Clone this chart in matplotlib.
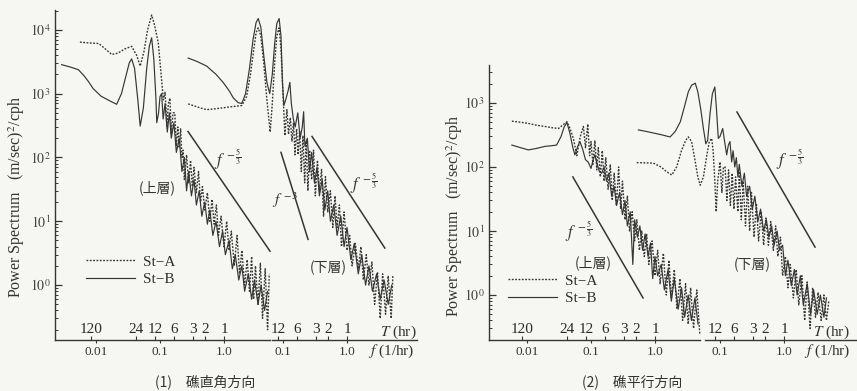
import math
import matplotlib
matplotlib.use('Agg')
import matplotlib.pyplot as plt
from matplotlib.ticker import FixedLocator, FixedFormatter, LogLocator, NullFormatter

plt.rcParams['font.family'] = ['Liberation Serif', 'DejaVu Serif', 'Noto Sans CJK JP']
plt.rcParams['mathtext.fontset'] = 'stix'

# ---------------- data ----------------
# Panel (1) 礁直角方向, upper layer (上層)
L_up_A_f = [0.0056, 0.008, 0.011, 0.014, 0.0176, 0.022, 0.028, 0.036, 0.043, 0.049, 0.056, 0.064, 0.074, 0.082,
            0.094, 0.104, 0.113, 0.12, 0.128, 0.135, 0.143, 0.15, 0.16, 0.17, 0.18, 0.19, 0.2, 0.21, 0.22, 0.23,
            0.24, 0.26, 0.28, 0.30, 0.32, 0.34, 0.37, 0.40, 0.43, 0.46, 0.5, 0.55, 0.6, 0.65, 0.7, 0.76, 0.82,
            0.9, 1.0, 1.1, 1.2, 1.3, 1.45, 1.6, 1.75, 1.9, 2.1, 2.3, 2.5, 2.7, 2.9, 3.1, 3.4, 3.7, 4.0, 4.4,
            4.8, 5.1]
L_up_A_S = [6400, 6200, 6100, 5000, 4100, 4300, 5000, 5500, 4000, 2700, 4500, 10000, 17000, 12000,
            6200, 2000, 800, 1050, 300, 700, 850, 230, 500, 500, 150, 300, 140, 280, 100, 130,
            45, 110, 40, 90, 35, 70, 28, 60, 20, 35, 15, 28, 10, 22, 9, 18, 6,
            12, 4, 10, 3.5, 7, 2, 6, 1.5, 3.5, 1, 2.5, 0.8, 2.8, 0.6, 2, 0.5, 2.2, 0.3, 1.8,
            0.2, 1.5]
L_up_B_f = [0.0029, 0.004, 0.0053, 0.0065, 0.0076, 0.009, 0.012, 0.016, 0.021, 0.025, 0.029, 0.033, 0.036,
            0.040, 0.045, 0.049, 0.055, 0.062, 0.068, 0.074, 0.080, 0.086, 0.089, 0.095, 0.10, 0.106, 0.112,
            0.12, 0.13, 0.14, 0.15, 0.165, 0.18, 0.2, 0.22, 0.24, 0.26, 0.28, 0.31, 0.34, 0.37, 0.41, 0.45,
            0.5, 0.55, 0.6, 0.67, 0.75, 0.85, 0.95, 1.05, 1.2, 1.35, 1.5, 1.7, 1.9, 2.1, 2.4, 2.7, 3.0, 3.4,
            3.8, 4.3, 4.8]
L_up_B_S = [2840, 2600, 2370, 1900, 1550, 1200, 910, 780, 680, 1000, 1800, 3000, 3500,
            2500, 800, 310, 600, 2500, 5500, 7500, 3500, 900, 350, 500, 900, 1000, 400,
            700, 250, 500, 200, 350, 120, 200, 60, 100, 30, 60, 25, 45, 18, 30, 12,
            20, 9, 15, 6, 10, 4, 7, 3, 5, 1.8, 3, 1.2, 2, 0.8, 1.5, 0.6, 1.2, 0.5,
            1.0, 0.4, 0.8]
# Panel (1), lower layer (下層)
L_lo_A_f = [0.0033, 0.005, 0.0064, 0.009, 0.0117, 0.015, 0.0227, 0.027, 0.031, 0.035, 0.038, 0.041, 0.045,
            0.050, 0.056, 0.063, 0.068, 0.074, 0.080, 0.087, 0.093, 0.10, 0.107, 0.115, 0.122, 0.13, 0.138,
            0.146, 0.154, 0.163, 0.172, 0.182, 0.193, 0.205, 0.218, 0.23, 0.245, 0.26, 0.28, 0.30, 0.32,
            0.345, 0.37, 0.40, 0.43, 0.46, 0.5, 0.55, 0.6, 0.65, 0.7, 0.76, 0.82, 0.9, 1.0, 1.1, 1.2, 1.35,
            1.5, 1.65, 1.8, 2.0, 2.2, 2.45, 2.7, 3.0, 3.3, 3.6, 4.0, 4.4, 4.9, 5.2]
L_lo_A_S = [690, 600, 560, 580, 600, 620, 650, 900, 2000, 5000, 9000, 10700, 8000,
            3000, 800, 250, 700, 3000, 8000, 10700, 5000, 1000, 220, 560, 230, 420, 180,
            350, 110, 280, 110, 260, 60, 220, 40, 180, 30, 130, 45, 130, 25,
            90, 30, 65, 12, 50, 14, 30, 8, 25, 8, 18, 4, 14, 3.5, 6, 2, 4.5,
            1.8, 4, 1.2, 3, 1, 2.3, 0.5, 1.6, 0.3, 1.5, 0.35, 1.4, 0.3, 1.4]
L_lo_B_f = [0.0033, 0.0045, 0.0064, 0.009, 0.0117, 0.0145, 0.0168, 0.020, 0.0227, 0.026, 0.030, 0.034, 0.038,
            0.041, 0.045, 0.050, 0.056, 0.062, 0.068, 0.074, 0.080, 0.087, 0.093, 0.098, 0.103, 0.11, 0.12,
            0.128, 0.135, 0.145, 0.155, 0.17, 0.185, 0.2, 0.21, 0.22, 0.24, 0.26, 0.28, 0.31, 0.34, 0.37,
            0.41, 0.45, 0.5, 0.55, 0.62, 0.7, 0.8, 0.9, 1.0, 1.15, 1.3, 1.5, 1.7, 1.95, 2.2, 2.5, 2.9, 3.3,
            3.8, 4.4, 5.0]
L_lo_B_S = [3600, 3200, 2700, 2000, 1480, 1100, 850, 720, 700, 1000, 2500, 7000, 13000,
            15000, 11000, 4000, 1500, 1000, 2000, 6000, 12500, 15000, 8000, 1500, 650, 800, 1100,
            1500, 700, 400, 300, 500, 200, 300, 520, 150, 200, 60, 120, 40, 70, 25,
            45, 15, 30, 10, 18, 6, 12, 4, 8, 2.5, 4.5, 1.5, 3, 1, 2, 0.8, 1.5, 0.6,
            1.2, 0.5, 1.0]
# Panel (2) 礁平行方向, upper layer (上層)
R_up_A_f = [0.0058, 0.008, 0.0105, 0.014, 0.019, 0.025, 0.031, 0.036, 0.042, 0.047, 0.053, 0.06, 0.068,
            0.076, 0.082, 0.089, 0.095, 0.10, 0.107, 0.115, 0.123, 0.13, 0.14, 0.15, 0.16, 0.17, 0.185, 0.2,
            0.215, 0.23, 0.25, 0.27, 0.29, 0.31, 0.34, 0.37, 0.4, 0.44, 0.48, 0.52, 0.57, 0.62, 0.68, 0.74,
            0.8, 0.9, 1.0, 1.1, 1.2, 1.35, 1.5, 1.65, 1.8, 2.0, 2.2, 2.45, 2.7, 3.0, 3.3, 3.6, 4.0, 4.5, 5.0]
R_up_A_S = [520, 500, 480, 450, 430, 410, 400, 450, 510, 400, 280, 150, 300,
            430, 200, 470, 150, 250, 110, 260, 90, 200, 70, 180, 60, 140, 45, 110,
            30, 80, 25, 100, 22, 60, 15, 35, 10, 20, 7, 15, 5, 10, 4, 9,
            3, 7, 2, 5, 1.5, 4.5, 1, 3.5, 0.9, 2.5, 0.6, 1.8, 0.4, 1.5, 0.35, 1.3, 0.3, 1.2, 0.25]
R_up_B_f = [0.0058, 0.008, 0.0105, 0.014, 0.019, 0.024, 0.029, 0.034, 0.038, 0.042, 0.047, 0.052, 0.056,
            0.062, 0.067, 0.074, 0.082, 0.09, 0.10, 0.108, 0.115, 0.125, 0.135, 0.147, 0.16, 0.175, 0.19,
            0.21, 0.23, 0.25, 0.28, 0.31, 0.34, 0.37, 0.41, 0.45, 0.48, 0.53, 0.58, 0.64, 0.7, 0.78, 0.85,
            0.92, 1.0, 1.1, 1.25, 1.4, 1.6, 1.8, 2.0, 2.3, 2.6, 2.9, 3.3, 3.7, 4.2, 4.7]
R_up_B_S = [220, 200, 185, 195, 210, 215, 220, 300, 420, 500, 330, 200, 155,
            210, 250, 190, 130, 120, 95, 130, 155, 110, 85, 80, 100, 60, 80,
            35, 50, 25, 40, 18, 30, 12, 20, 3, 15, 8, 12, 5, 9, 4, 6.5,
            1.8, 4, 2, 3, 1.2, 2.5, 0.8, 1.8, 0.6, 1.3, 0.45, 1.0, 0.4, 0.9, 0.35]
# Panel (2), lower layer (下層)
R_lo_A_f = [0.005, 0.007, 0.0091, 0.012, 0.0145, 0.0176, 0.021, 0.025, 0.029, 0.032, 0.036, 0.040, 0.045,
            0.049, 0.055, 0.062, 0.068, 0.074, 0.078, 0.083, 0.087, 0.092, 0.10, 0.107, 0.113, 0.12, 0.128,
            0.136, 0.145, 0.155, 0.165, 0.175, 0.19, 0.2, 0.215, 0.23, 0.25, 0.27, 0.29, 0.31, 0.34, 0.37,
            0.4, 0.44, 0.48, 0.52, 0.57, 0.62, 0.68, 0.74, 0.8, 0.88, 0.95, 1.05, 1.15, 1.25, 1.4, 1.55,
            1.7, 1.9, 2.1, 2.3, 2.55, 2.8, 3.1, 3.4, 3.8, 4.2, 4.6, 5.0]
R_lo_A_S = [117, 116, 115, 100, 85, 75, 100, 180, 260, 295, 250, 140, 70,
            52, 70, 150, 250, 280, 180, 60, 20, 60, 120, 40, 100, 100, 30,
            90, 25, 80, 22, 70, 20, 85, 15, 60, 12, 50, 10, 40, 8, 27,
            7, 20, 6, 16, 6, 14, 5, 12, 4, 8, 2, 4, 1.3, 3, 0.9, 2.5,
            0.7, 2, 0.4, 1.6, 0.3, 1.3, 0.45, 1.1, 0.4, 1.0, 0.4, 0.8]
R_lo_B_f = [0.0053, 0.007, 0.0091, 0.012, 0.0166, 0.020, 0.024, 0.028, 0.032, 0.036, 0.041, 0.045, 0.050,
            0.055, 0.060, 0.064, 0.070, 0.076, 0.083, 0.088, 0.094, 0.10, 0.11, 0.118, 0.127, 0.135, 0.143,
            0.152, 0.16, 0.17, 0.18, 0.19, 0.2, 0.22, 0.24, 0.26, 0.29, 0.32, 0.35, 0.39, 0.43, 0.48, 0.53,
            0.58, 0.64, 0.7, 0.78, 0.85, 0.95, 1.05, 1.15, 1.3, 1.45, 1.6, 1.8, 2.0, 2.3, 2.6, 2.9, 3.3, 3.7,
            4.2, 4.6]
R_lo_B_S = [380, 360, 340, 320, 295, 360, 510, 900, 1500, 1900, 2040, 1500, 800,
            400, 230, 260, 700, 1400, 1780, 800, 280, 300, 400, 250, 155, 220, 250,
            120, 180, 100, 140, 70, 110, 50, 80, 35, 50, 22, 35, 14, 22, 10, 15,
            8, 12, 6, 10, 5, 6, 2, 3.5, 1.4, 2.5, 1.0, 2, 0.7, 1.5, 0.5, 1.2, 0.5, 1.0,
            0.45, 0.9]

# reference slope lines (two end points each)
L_ref_up_f = [0.274, 5.23];  L_ref_up_S = [255, 3.4]      # f^-5/3, upper layer
L_ref_lo3_f = [0.093, 0.246]; L_ref_lo3_S = [120, 5.2]    # f^-3, lower layer
L_ref_lo_f = [0.284, 3.9];   L_ref_lo_S = [213, 3.8]      # f^-5/3, lower layer
R_ref_up_f = [0.052, 0.65];  R_ref_up_S = [70, 0.9]
R_ref_lo_f = [0.184, 3.05];  R_ref_lo_S = [724, 5.6]

# axis tick values
periods_up = [120, 24, 12, 6, 3, 2, 1]
periods_lo = [12, 6, 3, 2, 1]
freq_up = [0.01, 0.1, 1.0]
freq_up_lbl = ['0.01', '0.1', '1.0']
freq_lo = [0.1, 1.0]
freq_lo_lbl = ['0.1', '1.0']
L_yticks = [1, 10, 100, 1000, 10000]
R_yticks = [1, 10, 100, 1000]

# ---------------- figure ----------------
W, H = 857, 391
fig = plt.figure(figsize=(W / 100, H / 100), dpi=100)
fig.patch.set_facecolor('#f6f6f3')
INK = '#353535'
DOT = (0, (1.3, 1.1))


def fx(x):
    return x / W


def fy(y):
    return 1 - y / H


def make_panel(l, t, r, b, ylim, xl_up, xl_lo, up_end, lo_start, yticks):
    rect = [l / W, 1 - b / H, (r - l) / W, (b - t) / H]
    ax_up = fig.add_axes(rect)
    ax_lo = fig.add_axes(rect)
    for ax in (ax_up, ax_lo):
        ax.set_xscale('log')
        ax.set_yscale('log')
        ax.set_ylim(*ylim)
        ax.patch.set_alpha(0)
        ax.spines['top'].set_visible(False)
        ax.spines['right'].set_visible(False)
        ax.spines['bottom'].set_color(INK)
        ax.spines['left'].set_color(INK)
        ax.spines['bottom'].set_linewidth(1.0)
        ax.spines['left'].set_linewidth(1.0)
        ax.xaxis.remove_overlapping_locs = False
    ax_up.set_xlim(*xl_up)
    ax_lo.set_xlim(*xl_lo)
    ax_up.spines['bottom'].set_bounds(xl_up[0], up_end)
    ax_lo.spines['bottom'].set_bounds(lo_start, xl_lo[1])
    ax_lo.spines['left'].set_visible(False)
    ax_lo.tick_params(axis='y', which='both', left=False, labelleft=False)
    # y axis
    ax_up.yaxis.set_major_locator(FixedLocator(yticks))
    ax_up.yaxis.set_major_formatter(FixedFormatter([r'$10^{%d}$' % round(math.log10(v)) for v in yticks]))
    ax_up.yaxis.set_minor_locator(LogLocator(base=10, subs=range(2, 10), numticks=20))
    ax_up.yaxis.set_minor_formatter(NullFormatter())
    ax_up.tick_params(axis='y', which='major', direction='in', length=5, width=0.9, labelsize=10,
                      color=INK, labelcolor='#444444', pad=3)
    ax_up.tick_params(axis='y', which='minor', direction='in', length=2.5, width=0.7, color=INK)
    # x axes: frequency (major, below) and period (minor, above the line)
    for ax, fr, frl, per in ((ax_up, freq_up, freq_up_lbl, periods_up),
                             (ax_lo, freq_lo, freq_lo_lbl, periods_lo)):
        ax.xaxis.set_major_locator(FixedLocator(fr))
        ax.xaxis.set_major_formatter(FixedFormatter(frl))
        ax.xaxis.set_minor_locator(FixedLocator([1.0 / p for p in per]))
        ax.xaxis.set_minor_formatter(FixedFormatter([str(p) for p in per]))
        ax.tick_params(axis='x', which='major', direction='out', length=2.5, width=0.8, labelsize=9.5,
                       color=INK, labelcolor='#333333', pad=2)
        ax.tick_params(axis='x', which='minor', direction='in', length=3, width=0.8, labelsize=11,
                       color=INK, labelcolor='#2a2a2a', pad=-12.5)
    return ax_up, ax_lo


def draw(ax, f, s, dotted):
    if dotted:
        return ax.plot(f, s, color=INK, lw=1.0, linestyle=DOT)[0]
    return ax.plot(f, s, color=INK, lw=0.85, linestyle='-')[0]


# ---- panel (1)
a1u, a1l = make_panel(55, 10, 417, 340, (0.138, 20400), (0.002286, 1037), (2.74e-5, 12.4), 5.2, 0.067, L_yticks)
lA = draw(a1u, L_up_A_f, L_up_A_S, True)
lB = draw(a1u, L_up_B_f, L_up_B_S, False)
draw(a1l, L_lo_A_f, L_lo_A_S, True)
draw(a1l, L_lo_B_f, L_lo_B_S, False)
a1u.plot(L_ref_up_f, L_ref_up_S, color=INK, lw=1.1)
a1l.plot(L_ref_lo3_f, L_ref_lo3_S, color=INK, lw=1.1)
a1l.plot(L_ref_lo_f, L_ref_lo_S, color=INK, lw=1.1)

# ---- panel (2)
a2u, a2l = make_panel(489, 65, 857, 340, (0.198, 3926), (0.002547, 1432), (2.46e-5, 13.8), 5.0, 0.058, R_yticks)
rA = draw(a2u, R_up_A_f, R_up_A_S, True)
rB = draw(a2u, R_up_B_f, R_up_B_S, False)
draw(a2l, R_lo_A_f, R_lo_A_S, True)
draw(a2l, R_lo_B_f, R_lo_B_S, False)
a2u.plot(R_ref_up_f, R_ref_up_S, color=INK, lw=1.1)
a2l.plot(R_ref_lo_f, R_ref_lo_S, color=INK, lw=1.1)

# legends
for ax, (x, y), hA, hB in ((a1l, (86, 255), lA, lB), (a2l, (508, 274), rA, rB)):
    ax.legend([hA, hB], ['St\u2212A', 'St\u2212B'], loc='upper left', bbox_to_anchor=(fx(x), fy(y)),
              bbox_transform=fig.transFigure, frameon=False, fontsize=11, handlelength=3.2,
              handletextpad=0.5, labelspacing=0.25, borderpad=0, borderaxespad=0, labelcolor='#333333')

# texts
CJK = ['Noto Sans CJK JP']
tc = '#333333'
fig.text(fx(17), fy(197), 'Power Spectrum   (m/sec)$^{2}$/cph', rotation=90, ha='center', va='center',
         fontsize=11.5, color=tc)
fig.text(fx(455), fy(216), 'Power Spectrum   (m/sec)$^{2}$/cph', rotation=90, ha='center', va='center',
         fontsize=11.5, color=tc)
frac53 = r'$f^{\,-\frac{5}{3}}$'
fig.text(fx(214), fy(160), frac53, fontsize=12, color=tc, ha='left', va='center')
fig.text(fx(272), fy(200), r'$f^{\,-3}$', fontsize=11, color=tc, ha='left', va='center')
fig.text(fx(350), fy(184), frac53, fontsize=12, color=tc, ha='left', va='center')
fig.text(fx(565), fy(232), frac53, fontsize=12, color=tc, ha='left', va='center')
fig.text(fx(776), fy(160), frac53, fontsize=12, color=tc, ha='left', va='center')
fig.text(fx(157), fy(188), '(上層)', family=CJK, fontsize=10, color=tc, ha='center', va='center')
fig.text(fx(328), fy(268), '(下層)', family=CJK, fontsize=10, color=tc, ha='center', va='center')
fig.text(fx(593), fy(263), '(上層)', family=CJK, fontsize=10, color=tc, ha='center', va='center')
fig.text(fx(752), fy(265), '(下層)', family=CJK, fontsize=10, color=tc, ha='center', va='center')
for x in (380, 813):
    fig.text(fx(x), fy(332), '$T$ (hr)', fontsize=11, color=tc, ha='left', va='center')
for x in (368, 804):
    fig.text(fx(x), fy(351), '$f$ (1/hr)', fontsize=11, color=tc, ha='left', va='center')
fig.text(fx(205), fy(382), '(1)\u3000礁直角方向', family=CJK, fontsize=10, color=tc, ha='center', va='center')
fig.text(fx(632), fy(382), '(2)\u3000礁平行方向', family=CJK, fontsize=10, color=tc, ha='center', va='center')

fig.savefig('out.png', dpi=100, facecolor=fig.get_facecolor())
